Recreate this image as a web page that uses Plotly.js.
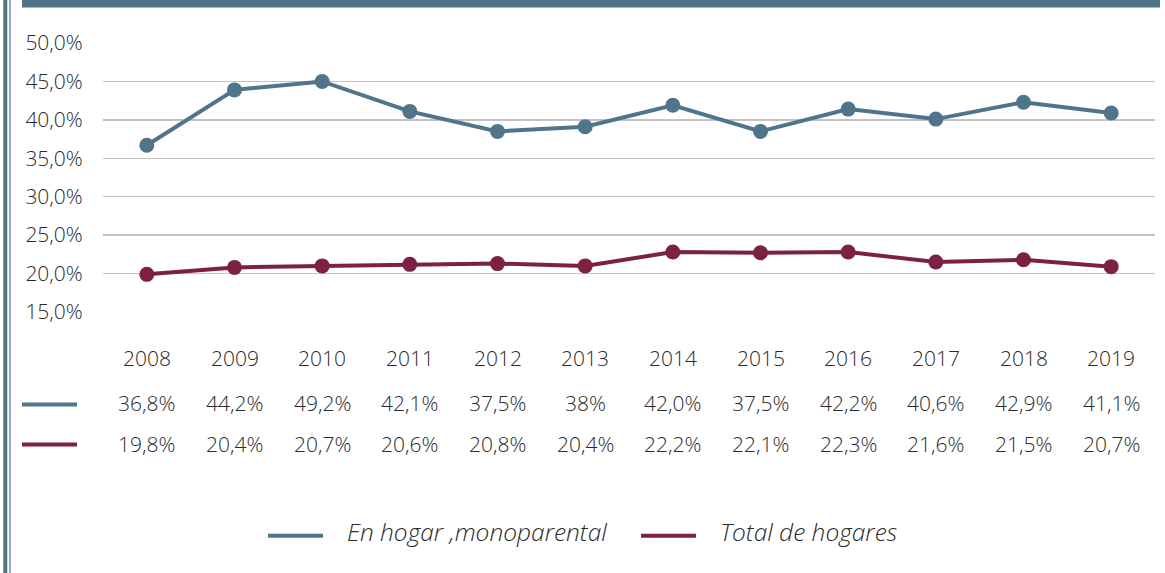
<!DOCTYPE html>
<html>
<head>
<meta charset="utf-8">
<script src="https://cdn.plot.ly/plotly-3.0.1.min.js"></script>
<style>html,body{margin:0;padding:0;background:#fff;}#chart{width:1165px;height:573px;}</style>
</head>
<body>
<div id="chart"></div>
<script>
const years = ['2008','2009','2010','2011','2012','2013','2014','2015','2016','2017','2018','2019'];
const monoValues = [36.7, 43.9, 45.0, 41.1, 38.5, 39.1, 41.9, 38.5, 41.4, 40.1, 42.3, 40.9];
const totalValues = [19.9, 20.8, 21.0, 21.2, 21.3, 21.0, 22.8, 22.7, 22.8, 21.5, 21.8, 20.9];
const monoLabels = ['36,8%','44,2%','49,2%','42,1%','37,5%','38%','42,0%','37,5%','42,2%','40,6%','42,9%','41,1%'];
const totalLabels = ['19,8%','20,4%','20,7%','20,6%','20,8%','20,4%','22,2%','22,1%','22,3%','21,6%','21,5%','20,7%'];
const seriesNames = ['En hogar ,monoparental', 'Total de hogares'];
const yTicks = [15, 20, 25, 30, 35, 40, 45, 50];
const yTickText = ['15,0%','20,0%','25,0%','30,0%','35,0%','40,0%','45,0%','50,0%'];

const BLUE = '#50748A';
const RED = '#7C2144';
const TXT = '#2a2a2a';
const FONT = '"Open Sans", sans-serif';

// layout geometry helpers (pixel -> paper)
const L = 103, R = 1155, T = 43.3, B = 311.7;
const px = X => (X - L) / (R - L);
const py = Y => (B - Y) / (B - T);

const traces = [
  {x: years, y: monoValues, name: seriesNames[0], type: 'scatter', mode: 'lines+markers',
   line: {color: BLUE, width: 4}, marker: {color: BLUE, size: 15}, showlegend: false},
  {x: years, y: totalValues, name: seriesNames[1], type: 'scatter', mode: 'lines+markers',
   line: {color: RED, width: 4}, marker: {color: RED, size: 15}, showlegend: false}
];

const tfont = {family: FONT, size: 21, color: TXT, weight: 300};
const annotations = [];
years.forEach((yr, i) => {
  annotations.push({x: i, xref: 'x', y: py(358), yref: 'paper', text: yr, showarrow: false,
    xanchor: 'center', yanchor: 'middle', font: tfont});
  annotations.push({x: i, xref: 'x', y: py(402), yref: 'paper', text: monoLabels[i], showarrow: false,
    xanchor: 'center', yanchor: 'middle', font: tfont});
  annotations.push({x: i, xref: 'x', y: py(443), yref: 'paper', text: totalLabels[i], showarrow: false,
    xanchor: 'center', yanchor: 'middle', font: tfont});
});
const lfont = {family: FONT, size: 24.5, color: TXT, weight: 300, style: 'italic'};
annotations.push({x: px(345), xref: 'paper', y: py(531), yref: 'paper', text: seriesNames[0],
  showarrow: false, xanchor: 'left', yanchor: 'middle', font: lfont});
annotations.push({x: px(718), xref: 'paper', y: py(531), yref: 'paper', text: seriesNames[1],
  showarrow: false, xanchor: 'left', yanchor: 'middle', font: lfont});

const shapes = [
  {type: 'rect', xref: 'paper', yref: 'paper', x0: px(22), x1: px(1160), y0: py(8), y1: py(-5),
   fillcolor: BLUE, line: {width: 0}, layer: 'below'},
  {type: 'rect', xref: 'paper', yref: 'paper', x0: px(3.3), x1: px(7.3), y0: py(580), y1: py(-5),
   fillcolor: BLUE, line: {width: 0}},
  {type: 'rect', xref: 'paper', yref: 'paper', x0: px(9.4), x1: px(10.6), y0: py(580), y1: py(-5),
   fillcolor: BLUE, line: {width: 0}},
  {type: 'line', xref: 'paper', yref: 'paper', x0: px(22), x1: px(77), y0: py(404), y1: py(404),
   line: {color: BLUE, width: 4}},
  {type: 'line', xref: 'paper', yref: 'paper', x0: px(22), x1: px(77), y0: py(444), y1: py(444),
   line: {color: RED, width: 4}},
  {type: 'line', xref: 'paper', yref: 'paper', x0: px(268), x1: px(323), y0: py(535), y1: py(535),
   line: {color: BLUE, width: 4}},
  {type: 'line', xref: 'paper', yref: 'paper', x0: px(641), x1: px(696), y0: py(535), y1: py(535),
   line: {color: RED, width: 4}}
];

const layout = {
  width: 1165, height: 573,
  margin: {l: L, r: 1165 - R, t: T, b: 573 - B, pad: 0},
  paper_bgcolor: '#ffffff', plot_bgcolor: '#ffffff',
  showlegend: false,
  xaxis: {type: 'category', categoryorder: 'array', categoryarray: years, range: [-0.5, 11.5],
    showticklabels: false, showgrid: false, zeroline: false, showline: false, ticks: ''},
  yaxis: {range: [15, 50], tickmode: 'array', tickvals: yTicks, ticktext: yTickText,
    showgrid: true, gridcolor: '#C4C4C4', gridwidth: 1.4, zeroline: false, showline: false,
    ticks: 'outside', ticklen: 15, tickcolor: 'rgba(0,0,0,0)',
    tickfont: {family: FONT, size: 21, color: TXT, weight: 300}},
  annotations: annotations,
  shapes: shapes
};

Plotly.newPlot('chart', traces, layout, {displayModeBar: false, staticPlot: true});
</script>
</body>
</html>
